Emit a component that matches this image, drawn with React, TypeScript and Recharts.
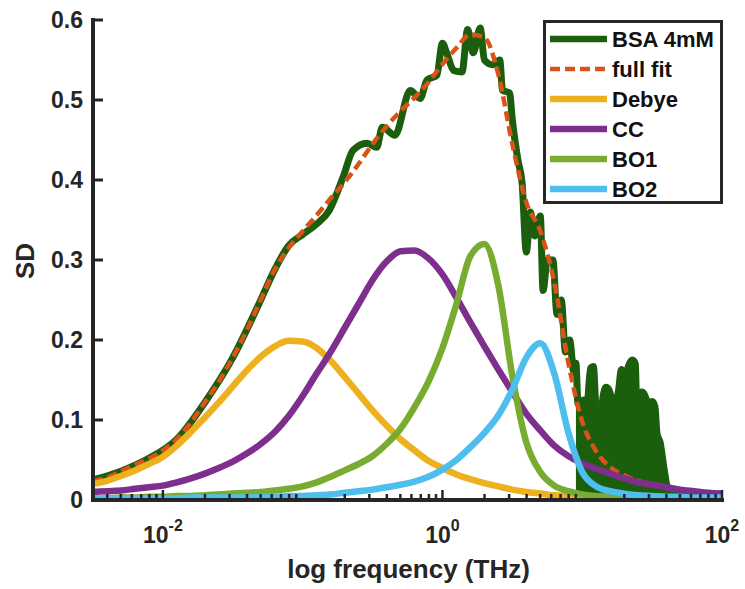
import React from 'react';
import { ComposedChart, Line, Area, XAxis, YAxis } from 'recharts';

const W = 745;
const H = 589;
const PLOT_LEFT = 93;
const PLOT_RIGHT = 722;
const PLOT_TOP = 20;
const PLOT_BOTTOM = 500;
const AXIS = '#262626';
const FONT = '"Liberation Sans", Arial, Helvetica, sans-serif';

// log10(frequency / THz) on a 0.1-decade grid, shared by the fit and its terms
const GRID_LOGF = [
  -2.5, -2.4, -2.3, -2.2, -2.1, -2.0, -1.9, -1.8, -1.7, -1.6,
  -1.5, -1.4, -1.3, -1.2, -1.1, -1.0, -0.9, -0.8, -0.7, -0.6,
  -0.5, -0.4, -0.3, -0.2, -0.1, 0.0, 0.1, 0.2, 0.3, 0.4,
  0.5, 0.6, 0.7, 0.8, 0.9, 1.0, 1.1, 1.2, 1.3, 1.4,
  1.5, 1.6, 1.7, 1.8, 1.9, 2.0,
];

const FIT = [
  0.024, 0.028, 0.036, 0.044, 0.052, 0.062, 0.076, 0.097, 0.122, 0.148,
  0.178, 0.212, 0.25, 0.288, 0.315, 0.336, 0.356, 0.377, 0.397, 0.42,
  0.445, 0.467, 0.486, 0.503, 0.522, 0.545, 0.565, 0.582, 0.578, 0.532,
  0.445, 0.372, 0.336, 0.272, 0.172, 0.098, 0.061, 0.041, 0.031, 0.024,
  0.02, 0.016, 0.013, 0.011, 0.009, 0.008,
];

const DEBYE = [
  0.02, 0.024, 0.03, 0.037, 0.045, 0.054, 0.068, 0.085, 0.103, 0.122,
  0.142, 0.162, 0.179, 0.192, 0.199, 0.198, 0.19, 0.174, 0.154, 0.133,
  0.112, 0.093, 0.076, 0.062, 0.049, 0.04, 0.032, 0.026, 0.021, 0.017,
  0.013, 0.01, 0.008, 0.006, 0.005, 0.004, 0.003, 0.003, 0.002, 0.002,
  0.002, 0.001, 0.001, 0.001, 0.001, 0.001,
];

const CC = [
  0.01, 0.011, 0.012, 0.014, 0.016, 0.018, 0.022, 0.027, 0.033, 0.04,
  0.048, 0.058, 0.07, 0.085, 0.105, 0.13, 0.158, 0.185, 0.215, 0.245,
  0.275, 0.298, 0.311, 0.312, 0.302, 0.282, 0.253, 0.222, 0.192, 0.163,
  0.135, 0.108, 0.087, 0.068, 0.055, 0.046, 0.039, 0.033, 0.027, 0.022,
  0.019, 0.016, 0.013, 0.011, 0.009, 0.008,
];

const BO1 = [
  0.002, 0.002, 0.003, 0.003, 0.004, 0.004, 0.005, 0.005, 0.006, 0.007,
  0.008, 0.009, 0.01, 0.012, 0.014, 0.017, 0.022, 0.029, 0.037, 0.045,
  0.055, 0.07, 0.089, 0.116, 0.148, 0.19, 0.245, 0.305, 0.32, 0.268,
  0.155, 0.072, 0.035, 0.018, 0.011, 0.007, 0.005, 0.004, 0.003, 0.003,
  0.002, 0.002, 0.002, 0.001, 0.001, 0.001,
];

const BO2 = [
  0.002, 0.002, 0.002, 0.002, 0.002, 0.002, 0.002, 0.003, 0.003, 0.003,
  0.003, 0.003, 0.004, 0.004, 0.005, 0.005, 0.006, 0.007, 0.009, 0.011,
  0.013, 0.016, 0.019, 0.023, 0.029, 0.038, 0.05, 0.066, 0.084, 0.106,
  0.138, 0.178, 0.196, 0.158, 0.085, 0.035, 0.017, 0.011, 0.008, 0.006,
  0.005, 0.004, 0.004, 0.003, 0.003, 0.003,
];

// measured spectrum (BSA 4mM), own sampling
const DATA_LOGF = [
  -2.5, -2.3, -2.1, -1.9, -1.7, -1.5, -1.3, -1.2, -1.1, -1.0,
  -0.9, -0.81, -0.71, -0.64, -0.54, -0.47, -0.43, -0.34, -0.23, -0.16,
  -0.11, -0.04, 0.0, 0.03, 0.08, 0.14, 0.18, 0.22, 0.27, 0.3,
  0.36, 0.41, 0.43, 0.48, 0.5, 0.54, 0.57, 0.6, 0.63, 0.66,
  0.7, 0.72, 0.75, 0.79, 0.82, 0.85, 0.88, 0.91, 0.94,
  0.955, 0.97, 1.01, 1.03, 1.06, 1.08, 1.1, 1.13, 1.15, 1.17,
  1.19, 1.21, 1.24, 1.26, 1.28, 1.31, 1.33, 1.36, 1.38, 1.39,
  1.41, 1.43, 1.46, 1.48, 1.5, 1.52, 1.535, 1.56, 1.57, 1.59,
  1.61, 1.66, 1.74, 1.84,
];

const DATA_SD = [
  0.025, 0.036, 0.052, 0.076, 0.122, 0.178, 0.25, 0.288, 0.318, 0.332,
  0.345, 0.362, 0.404, 0.437, 0.446, 0.441, 0.466, 0.456, 0.512, 0.502,
  0.525, 0.531, 0.571, 0.559, 0.537, 0.535, 0.588, 0.559, 0.59, 0.55,
  0.544, 0.55, 0.512, 0.509, 0.475, 0.425, 0.396, 0.31, 0.36, 0.33,
  0.355, 0.262, 0.3, 0.3, 0.232, 0.25, 0.185, 0.2, 0.16,
  0.171, 0.12, 0.125, 0.11, 0.165, 0.167, 0.112, 0.104, 0.13, 0.141,
  0.138, 0.128, 0.122, 0.137, 0.163, 0.15, 0.167, 0.175, 0.17, 0.117,
  0.134, 0.135, 0.125, 0.11, 0.123, 0.117, 0.083, 0.07, 0.058, 0.034,
  0.016, 0.012, 0.008, 0.004,
];

// noisy high-frequency tail, drawn filled down to zero
const TAIL_FROM = 0.955;
const TAIL_TO = 1.66;

const X_MAJOR_EXP = [-2, 0, 2];
const X_MINOR = [
  0.004, 0.005, 0.006, 0.007, 0.008, 0.009,
  0.02, 0.03, 0.04, 0.05, 0.06, 0.07, 0.08, 0.09,
  0.2, 0.3, 0.4, 0.5, 0.6, 0.7, 0.8, 0.9,
  2, 3, 4, 5, 6, 7, 8, 9,
  20, 30, 40, 50, 60, 70, 80, 90,
];
const Y_TICKS = [0, 0.1, 0.2, 0.3, 0.4, 0.5, 0.6];
const Y_TICK_LABELS = ['0', '0.1', '0.2', '0.3', '0.4', '0.5', '0.6'];

const LEGEND_NAMES = ['BSA 4mM', 'full fit', 'Debye', 'CC', 'BO1', 'BO2'];
const COLORS = ['#1b5e0d', '#D95319', '#EDB120', '#7E2F8E', '#77AC30', '#4DBEEE'];

const X_MAJOR = X_MAJOR_EXP.map((e) => Math.pow(10, e));
const X_TICKS = [...X_MAJOR, ...X_MINOR].sort((a, b) => a - b);
const F_MIN = Math.pow(10, GRID_LOGF[0]);
const F_MAX = Math.pow(10, GRID_LOGF[GRID_LOGF.length - 1]);

const gridRows = GRID_LOGF.map((l, i) => ({
  f: Math.pow(10, l),
  fit: FIT[i],
  debye: DEBYE[i],
  cc: CC[i],
  bo1: BO1[i],
  bo2: BO2[i],
}));
const dataRows = DATA_LOGF.map((l, i) => ({ f: Math.pow(10, l), sd: DATA_SD[i] }));
const tailRows = DATA_LOGF.map((l, i) => ({ l, f: Math.pow(10, l), sd: DATA_SD[i] })).filter(
  (r) => r.l >= TAIL_FROM && r.l <= TAIL_TO
);

const textStyle = { fontFamily: FONT, fontWeight: 'bold' as const, fill: AXIS };

function BottomTick(props: any) {
  const { x, payload } = props;
  const idx = X_MAJOR.indexOf(payload.value);
  const major = idx >= 0;
  return (
    <g>
      <line x1={x} x2={x} y1={PLOT_BOTTOM} y2={PLOT_BOTTOM - (major ? 10 : 6)} stroke={AXIS} strokeWidth={2.5} />
      {major && (
        <text x={x} y={543} textAnchor="middle" fontSize={23} {...textStyle}>
          10
          <tspan dy={-12} fontSize={16}>
            {X_MAJOR_EXP[idx]}
          </tspan>
        </text>
      )}
    </g>
  );
}

function TopTick(props: any) {
  const { x, payload } = props;
  const major = X_MAJOR.indexOf(payload.value) >= 0;
  return <line x1={x} x2={x} y1={PLOT_TOP} y2={PLOT_TOP + (major ? 10 : 6)} stroke={AXIS} strokeWidth={2.5} />;
}

function LeftTick(props: any) {
  const { y, payload } = props;
  const i = Y_TICKS.indexOf(payload.value);
  return (
    <g>
      <line x1={PLOT_LEFT} x2={PLOT_LEFT + 10} y1={y} y2={y} stroke={AXIS} strokeWidth={3} />
      <text x={83} y={y} dy="0.36em" textAnchor="end" fontSize={23} {...textStyle}>
        {Y_TICK_LABELS[i]}
      </text>
    </g>
  );
}

function RightTick(props: any) {
  const { y } = props;
  return <line x1={PLOT_RIGHT} x2={PLOT_RIGHT - 10} y1={y} y2={y} stroke={AXIS} strokeWidth={3} />;
}

function ChartLegend() {
  return (
    <div
      style={{
        position: 'absolute',
        left: 543,
        top: 20,
        width: 180,
        height: 184,
        boxSizing: 'border-box',
        border: `3px solid ${AXIS}`,
        background: '#fff',
      }}
    >
      <svg width={174} height={178} style={{ display: 'block', overflow: 'visible' }}>
        {LEGEND_NAMES.map((name, i) => {
          const y = 16 + i * 30;
          return (
            <g key={name}>
              <line
                x1={4}
                x2={61}
                y1={y}
                y2={y}
                stroke={COLORS[i]}
                strokeWidth={i === 1 ? 4.5 : 6.5}
                strokeDasharray={i === 1 ? '10 5' : undefined}
              />
              <text x={66} y={y} dy="0.36em" fontSize={22} {...textStyle} fill="#111">
                {name}
              </text>
            </g>
          );
        })}
      </svg>
    </div>
  );
}

export default function App() {
  const axisLine = { stroke: AXIS, strokeWidth: 4, strokeLinecap: 'square' as const };
  return (
    <div style={{ position: 'absolute', left: 0, top: 0, width: W, height: H, background: '#fff' }}>
      <ComposedChart width={W} height={H} margin={{ top: PLOT_TOP, right: W - PLOT_RIGHT, bottom: 0, left: 0 }}>
        <XAxis
          type="number"
          dataKey="f"
          scale="log"
          domain={[F_MIN, F_MAX]}
          allowDataOverflow
          ticks={X_TICKS}
          interval={0}
          height={H - PLOT_BOTTOM}
          axisLine={axisLine}
          tickLine={false}
          tick={<BottomTick />}
          label={{
            content: () => (
              <text x={(PLOT_LEFT + PLOT_RIGHT) / 2 + 1} y={578} textAnchor="middle" fontSize={26} {...textStyle}>
                log frequency (THz)
              </text>
            ),
          }}
        />
        <XAxis
          xAxisId="top"
          orientation="top"
          type="number"
          dataKey="f"
          scale="log"
          domain={[F_MIN, F_MAX]}
          allowDataOverflow
          ticks={X_TICKS}
          interval={0}
          height={0}
          axisLine={axisLine}
          tickLine={false}
          tick={<TopTick />}
        />
        <YAxis
          type="number"
          domain={[0, 0.6]}
          allowDataOverflow
          ticks={Y_TICKS}
          interval={0}
          width={PLOT_LEFT}
          axisLine={axisLine}
          tickLine={false}
          tick={<LeftTick />}
          label={{
            content: () => (
              <text
                x={34}
                y={261}
                textAnchor="middle"
                fontSize={26}
                transform="rotate(-90 34 261)"
                {...textStyle}
              >
                SD
              </text>
            ),
          }}
        />
        <YAxis
          yAxisId="right"
          orientation="right"
          type="number"
          domain={[0, 0.6]}
          allowDataOverflow
          ticks={Y_TICKS}
          interval={0}
          width={0}
          axisLine={axisLine}
          tickLine={false}
          tick={<RightTick />}
        />
        <Area
          data={tailRows}
          dataKey="sd"
          type="linear"
          stroke="none"
          fill={COLORS[0]}
          fillOpacity={1}
          isAnimationActive={false}
        />
        <Line data={dataRows} dataKey="sd" type="monotone" stroke={COLORS[0]} strokeWidth={7} strokeLinejoin="round" dot={false} isAnimationActive={false} />
        <Line data={gridRows} dataKey="fit" type="monotone" stroke={COLORS[1]} strokeWidth={4.5} strokeDasharray="10 5" dot={false} isAnimationActive={false} />
        <Line data={gridRows} dataKey="debye" type="monotone" stroke={COLORS[2]} strokeWidth={6.5} dot={false} isAnimationActive={false} />
        <Line data={gridRows} dataKey="cc" type="monotone" stroke={COLORS[3]} strokeWidth={6.5} dot={false} isAnimationActive={false} />
        <Line data={gridRows} dataKey="bo1" type="monotone" stroke={COLORS[4]} strokeWidth={6.5} dot={false} isAnimationActive={false} />
        <Line data={gridRows} dataKey="bo2" type="monotone" stroke={COLORS[5]} strokeWidth={6.5} dot={false} isAnimationActive={false} />
      </ComposedChart>
      <ChartLegend />
    </div>
  );
}
